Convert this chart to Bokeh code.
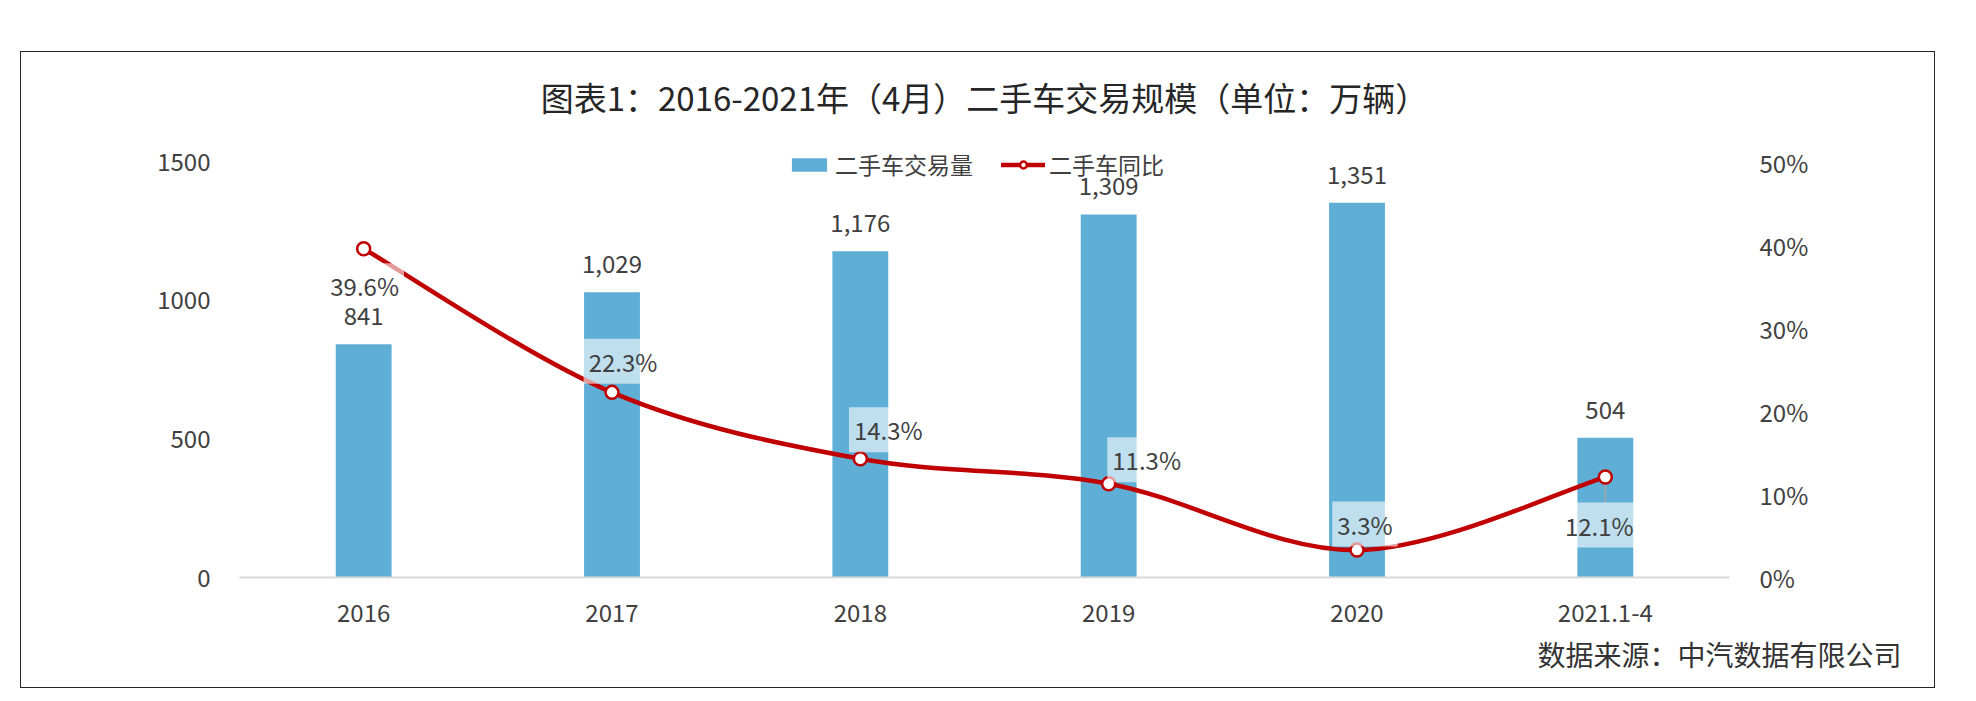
from bokeh.plotting import figure
from bokeh.models import (ColumnDataSource, Range1d, FactorRange, LinearAxis, FixedTicker,
                          PrintfTickFormatter, LabelSet, Label, Legend, LegendItem, Title)
from bokeh.core.properties import value
from bokeh.embed import file_html
from bokeh.resources import INLINE

# ---- data ----
categories = ["2016", "2017", "2018", "2019", "2020", "2021.1-4"]
volume = [841, 1029, 1176, 1309, 1351, 504]          # 万辆
yoy = [39.6, 22.3, 14.3, 11.3, 3.3, 12.1]              # %
left_ticks = [0, 500, 1000, 1500]
right_ticks = [0, 10, 20, 30, 40, 50]
title_text = "图表1：2016-2021年（4月）二手车交易规模（单位：万辆）"
source_text = "数据来源：中汽数据有限公司"
series_names = ["二手车交易量", "二手车同比"]

# ---- styles ----
FONT = "Noto Sans CJK SC"
BAR = "#5FAED6"
RED = "#C00000"
TXT = "#404040"
# label offsets (px) for percentage labels, relative to the marker
pct_dx = [1, 11, 28, 38, 8, -6]
pct_dy = [-37, 31, 29, 24, 26, -48]
PCT_MAX = 53.6
FRAME_H = 445

p = figure(width=1913, height=635, x_range=FactorRange(*categories),
           y_range=Range1d(0, 1604.6), output_backend="svg", toolbar_location=None,
           min_border_left=218, min_border_right=205, min_border_top=80, min_border_bottom=110,
           margin=(52, 0, 0, 21), styles={"outline": "1.5px solid #262626"})
p.x_range.range_padding = 0
p.extra_y_ranges = {"pct": Range1d(0, PCT_MAX)}
p.outline_line_color = None
p.xgrid.visible = False
p.ygrid.visible = False
p.background_fill_color = "white"
p.border_fill_color = "white"

# bars
src = ColumnDataSource(dict(cat=categories, vol=volume,
                            vlab=[f"{v:,}" for v in volume]))
bars = p.vbar(x="cat", top="vol", width=0.225, source=src, fill_color=BAR, line_color=None)

# leader line for the last percentage label (drawn below the curve)
px_per_pct = FRAME_H / PCT_MAX
i_last = len(yoy) - 1
xs = [i + 0.5 for i in range(len(categories))]
p.segment(x0=[xs[i_last]], y0=[yoy[i_last]], x1=[xs[i_last]],
          y1=[yoy[i_last] + (pct_dy[i_last] + 23) / px_per_pct],
          line_color="#A6A6A6", line_width=1.5, y_range_name="pct")

# smoothed line (Catmull-Rom -> cubic Bezier through the data points)
n = len(xs)
x0, y0, x1, y1, cx0, cy0, cx1, cy1 = [], [], [], [], [], [], [], []
for i in range(n - 1):
    pxm, pym = (xs[i - 1], yoy[i - 1]) if i > 0 else (xs[i], yoy[i])
    pxp, pyp = (xs[i + 2], yoy[i + 2]) if i + 2 < n else (xs[i + 1], yoy[i + 1])
    x0.append(xs[i]); y0.append(yoy[i]); x1.append(xs[i + 1]); y1.append(yoy[i + 1])
    cx0.append(xs[i] + (xs[i + 1] - pxm) / 6); cy0.append(yoy[i] + (yoy[i + 1] - pym) / 6)
    cx1.append(xs[i + 1] - (pxp - xs[i]) / 6); cy1.append(yoy[i + 1] - (pyp - yoy[i]) / 6)
bsrc = ColumnDataSource(dict(x0=x0, y0=y0, x1=x1, y1=y1, cx0=cx0, cy0=cy0, cx1=cx1, cy1=cy1))
curve = p.bezier(x0="x0", y0="y0", x1="x1", y1="y1", cx0="cx0", cy0="cy0", cx1="cx1", cy1="cy1",
                 source=bsrc, line_color=RED, line_width=4.5, line_cap="round", y_range_name="pct")
lsrc = ColumnDataSource(dict(cat=categories, yoy=yoy))
marks = p.scatter(x="cat", y="yoy", source=lsrc, marker="circle", size=13, fill_color="white",
                  line_color=RED, line_width=2.5, y_range_name="pct")

# axes
p.yaxis.ticker = FixedTicker(ticks=left_ticks)
ya = p.yaxis[0]
ya.axis_line_color = None
ya.major_tick_line_color = None
ya.minor_tick_line_color = None
ya.major_label_standoff = 23
ya.major_label_text_font = FONT
ya.major_label_text_font_size = "24px"
ya.major_label_text_color = TXT

raxis = LinearAxis(y_range_name="pct", ticker=FixedTicker(ticks=right_ticks),
                   formatter=PrintfTickFormatter(format="%d%%"))
raxis.axis_line_color = None
raxis.major_tick_line_color = None
raxis.minor_tick_line_color = None
raxis.major_label_standoff = 24
raxis.major_label_text_font = FONT
raxis.major_label_text_font_size = "24px"
raxis.major_label_text_color = TXT
p.add_layout(raxis, "right")

xa = p.xaxis[0]
xa.axis_line_color = "#D9D9D9"
xa.axis_line_width = 2
xa.major_tick_line_color = None
xa.minor_tick_line_color = None
xa.major_label_standoff = 20
xa.major_label_text_font = FONT
xa.major_label_text_font_size = "24px"
xa.major_label_text_color = TXT

# bar value labels
p.add_layout(LabelSet(x="cat", y="vol", text="vlab", source=src, y_offset=28,
                      text_align="center", text_baseline="middle", text_font=value(FONT),
                      text_font_size="24px", text_color=TXT))

# percentage labels with translucent white boxes
for i, v in enumerate(yoy):
    p.add_layout(Label(x=xs[i], y=v, y_range_name="pct", text=f"{v:.1f}%",
                       x_offset=pct_dx[i], y_offset=pct_dy[i],
                       text_align="center", text_baseline="middle", text_font=FONT,
                       text_font_size="24px", text_color=TXT,
                       background_fill_color="white", background_fill_alpha=0.6,
                       padding=5))

# legend
legend = Legend(items=[LegendItem(label=series_names[0], renderers=[bars]),
                       LegendItem(label=series_names[1], renderers=[curve, marks])],
                orientation="horizontal", location=(548, 396), glyph_width=44, glyph_height=17,
                label_standoff=4, spacing=28, padding=0, margin=0,
                label_text_font=FONT, label_text_font_size="23px", label_text_color=TXT,
                background_fill_alpha=0, border_line_color=None)
p.add_layout(legend, "center")

# title and source note
p.add_layout(Title(text=title_text, align="center", offset=-22, standoff=24,
                   text_font=FONT, text_font_size="33px", text_font_style="normal",
                   text_color="#262626"), "above")
p.add_layout(Title(text=source_text, align="right", offset=-172, standoff=14,
                   text_font=FONT, text_font_size="28px", text_font_style="normal",
                   text_color="#333333"), "below")

open("out.html", "w").write(file_html(p, INLINE))
